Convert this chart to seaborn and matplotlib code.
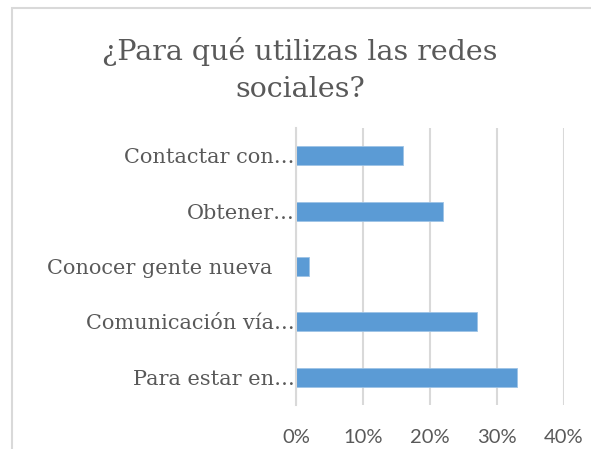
import matplotlib
matplotlib.use("Agg")
import matplotlib.pyplot as plt
import matplotlib.transforms as mtransforms
from matplotlib.patches import Rectangle
import seaborn as sns
import pandas as pd

# ---------- Data ----------
categories = ["Contactar con…", "Obtener…", "Conocer gente nueva",
              "Comunicación vía…", "Para estar en…"]
values = [0.16, 0.22, 0.02, 0.27, 0.33]
xticks = [0.0, 0.1, 0.2, 0.3, 0.4]
xtick_labels = ["0%", "10%", "20%", "30%", "40%"]
title = "¿Para qué utilizas las redes\nsociales?"

df = pd.DataFrame({"category": categories, "value": values})

sns.set_theme(style="white")
plt.rcParams["font.family"] = ["DejaVu Serif"]

fig = plt.figure(figsize=(5.91, 4.49), dpi=100)
ax = fig.add_axes([296 / 591, 1 - 405 / 449, (564 - 296) / 591, (405 - 128) / 449])

sns.barplot(data=df, x="value", y="category", orient="h", color="#5B9BD5",
            saturation=1, width=0.34, edgecolor="#9DC3E6", linewidth=0.6, ax=ax)

ax.set_xlim(0, 0.4)
ax.set_ylim(4.5, -0.5)
ax.set_xticks(xticks)
ax.set_xticklabels(xtick_labels, fontfamily="Lato", fontsize=14.5, color="#595959")
ax.set_xlabel("")
ax.set_ylabel("")
ax.xaxis.grid(True, color="#D9D9D9", linewidth=1.5)
ax.set_axisbelow(True)
for s in ["top", "right", "bottom"]:
    ax.spines[s].set_visible(False)
ax.spines["left"].set_color("#D9D9D9")
ax.spines["left"].set_linewidth(1.5)
ax.tick_params(axis="x", length=0, pad=17)
ax.tick_params(axis="y", length=0, pad=1, labelsize=15, labelcolor="#595959")

# Excel leaves a gap after the one label that is not truncated
for lab in ax.get_yticklabels():
    if lab.get_text() == "Conocer gente nueva":
        lab.set_transform(lab.get_transform() +
                          mtransforms.ScaledTranslation(-22 / 100, 0, fig.dpi_scale_trans))

fig.text(300 / 591, 1 - 70 / 449, title, ha="center", va="center",
         fontsize=20.5, color="#595959", linespacing=1.5)

# chart area border
fig.patches.append(Rectangle((12 / 591, -0.5), 2, 1.5 - 8 / 449, transform=fig.transFigure,
                             fill=False, edgecolor="#D9D9D9", linewidth=1.5))

fig.savefig("out.png", dpi=100, facecolor="white")
